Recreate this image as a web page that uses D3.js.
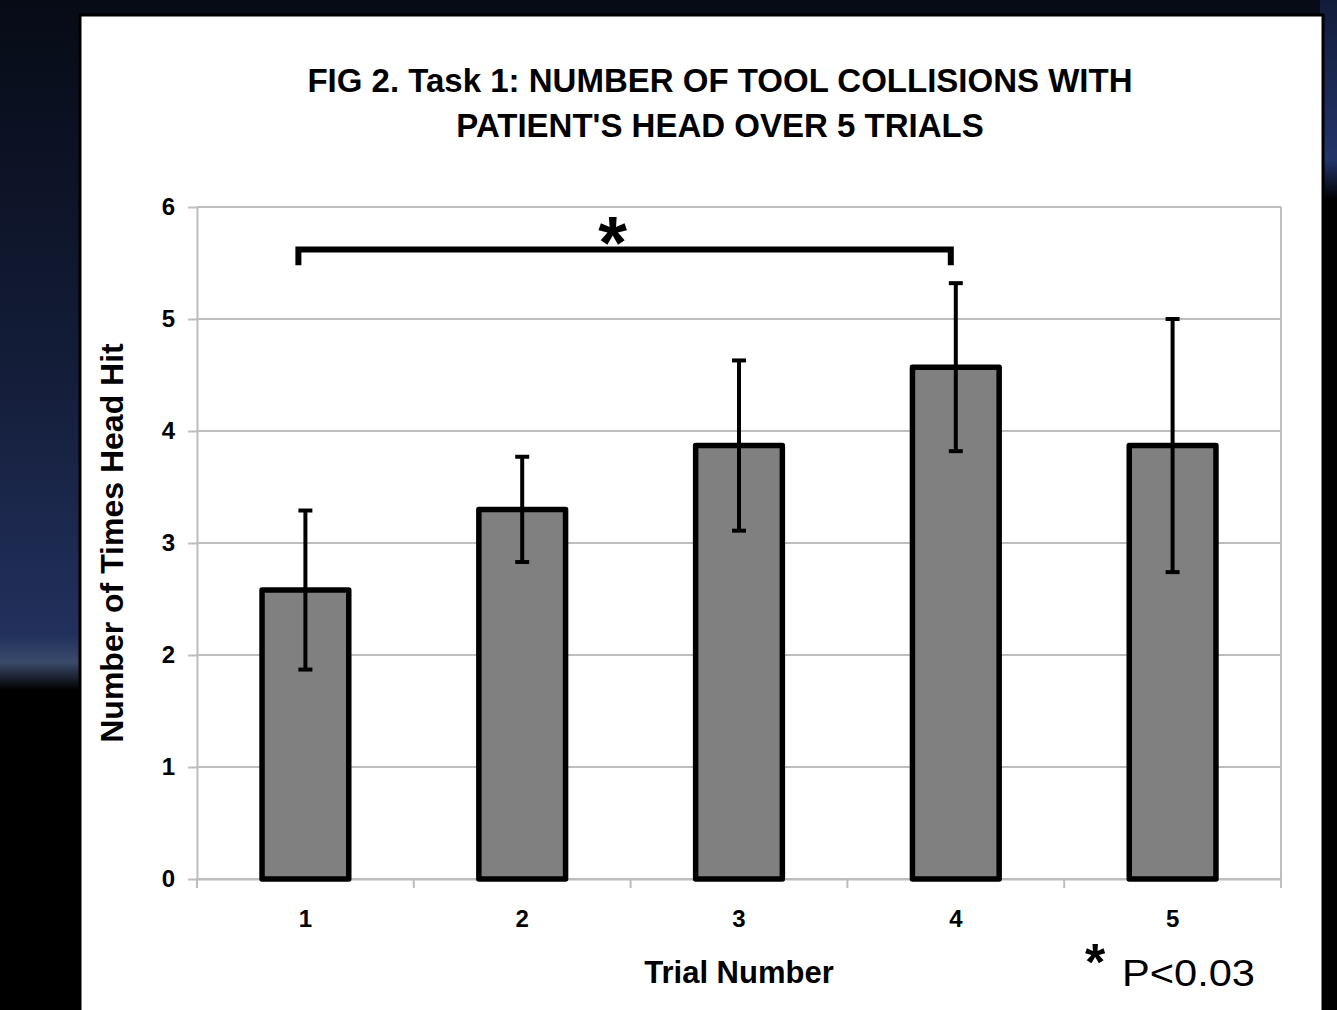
<!DOCTYPE html>
<html>
<head>
<meta charset="utf-8">
<script src="https://cdn.jsdelivr.net/npm/d3@7"></script>
<style>
  body { margin: 0; background: #000; overflow: hidden; }
  svg { display: block; font-family: "Liberation Sans", Arial, sans-serif; }
</style>
</head>
<body>
<svg width="1337" height="1010"></svg>
<script>
// chart data
var trials = ["1", "2", "3", "4", "5"];
var means = [2.58, 3.30, 3.87, 4.57, 3.87];
var errors = [0.71, 0.47, 0.76, 0.75, 1.13];
var yTicks = [0, 1, 2, 3, 4, 5, 6];
var titleLines = ["FIG 2. Task 1: NUMBER OF TOOL COLLISIONS WITH", "PATIENT'S HEAD OVER 5 TRIALS"];
var sigPair = ["1", "4"];
var sigLevels = [5.62, 5.48];   // bracket top, bracket feet
var sigNote = "P<0.03";

var svg = d3.select("svg");

// slide background
var defs = svg.append("defs");
var bg = defs.append("linearGradient")
    .attr("id", "slide").attr("x1", 0).attr("y1", 0).attr("x2", 0).attr("y2", 1);
bg.append("stop").attr("offset", "0%").attr("stop-color", "#070b16");
bg.append("stop").attr("offset", "55%").attr("stop-color", "#141e3a");
bg.append("stop").attr("offset", "92%").attr("stop-color", "#22305c");
bg.append("stop").attr("offset", "96%").attr("stop-color", "#3a4a6a");
bg.append("stop").attr("offset", "100%").attr("stop-color", "#000");

var bgR = defs.append("linearGradient")
    .attr("id", "slideR").attr("x1", 0).attr("y1", 0).attr("x2", 0).attr("y2", 1);
bgR.append("stop").attr("offset", "0%").attr("stop-color", "#121c3a");
bgR.append("stop").attr("offset", "80%").attr("stop-color", "#23346a");
bgR.append("stop").attr("offset", "100%").attr("stop-color", "#000");

svg.append("rect").attr("width", 1337).attr("height", 1010).attr("fill", "#000");
svg.append("rect").attr("width", 1337).attr("height", 690).attr("fill", "url(#slide)");
svg.append("rect").attr("x", 1320).attr("width", 17).attr("height", 200).attr("fill", "url(#slideR)");
svg.append("rect").attr("x", 1320).attr("y", 200).attr("width", 17).attr("height", 810).attr("fill", "#000");

// white chart panel
svg.append("rect")
    .attr("x", 80).attr("y", 15)
    .attr("width", 1243).attr("height", 1000)
    .attr("fill", "#fff")
    .attr("stroke", "#000").attr("stroke-width", 3);

var margin = { top: 207, left: 197 },
    width = 1084,
    height = 672;

var g = svg.append("g")
    .attr("transform", `translate(${margin.left}, ${margin.top})`);

var x = d3.scaleBand()
    .domain(trials)
    .range([0, width])
    .paddingInner(0.6)
    .paddingOuter(0.3);

var y = d3.scaleLinear()
    .domain([0, 6])
    .range([height, 0]);

var grey = "#bdbdbd";

// gridlines
g.append("g").selectAll("line")
    .data(yTicks)
    .enter().append("line")
        .attr("x1", 0).attr("x2", width)
        .attr("y1", d => y(d)).attr("y2", d => y(d))
        .attr("stroke", grey).attr("stroke-width", 2);

// plot area right border
g.append("line")
    .attr("x1", width).attr("x2", width)
    .attr("y1", 0).attr("y2", height)
    .attr("stroke", grey).attr("stroke-width", 2);

// y axis
var yAxis = g.append("g")
    .attr("class", "axis y")
    .call(d3.axisLeft(y).tickValues(yTicks).tickFormat(d3.format("d"))
        .tickSize(9).tickPadding(13).tickSizeOuter(0));
yAxis.selectAll("path, line").attr("stroke", grey).attr("stroke-width", 2);
yAxis.selectAll("text")
    .attr("fill", "#000")
    .attr("font-size", 24)
    .attr("font-weight", "bold")
    .attr("font-family", "Liberation Sans, Arial, sans-serif");

// x axis
var xAxis = g.append("g")
    .attr("class", "axis x")
    .attr("transform", `translate(0, ${height})`)
    .call(d3.axisBottom(x).tickSize(0).tickPadding(31).tickSizeOuter(0));
xAxis.select("path").attr("stroke", grey).attr("stroke-width", 2);
xAxis.selectAll("text")
    .attr("fill", "#000")
    .attr("font-size", 24)
    .attr("font-weight", "bold")
    .attr("font-family", "Liberation Sans, Arial, sans-serif");

// category boundary ticks
xAxis.append("g").selectAll("line")
    .data(d3.range(trials.length + 1))
    .enter().append("line")
        .attr("x1", i => i * x.step()).attr("x2", i => i * x.step())
        .attr("y1", 0).attr("y2", 9)
        .attr("stroke", grey).attr("stroke-width", 2);

// bars
var data = trials.map((t, i) => ({ trial: t, mean: means[i], err: errors[i] }));

g.append("g").selectAll("rect")
    .data(data)
    .enter().append("rect")
        .attr("x", d => x(d.trial))
        .attr("y", d => y(d.mean))
        .attr("width", x.bandwidth())
        .attr("height", d => y(0) - y(d.mean))
        .attr("fill", "#808080")
        .attr("stroke", "#000")
        .attr("stroke-width", 5.5)
        .attr("stroke-linejoin", "round");

// error bars
var eb = g.append("g").selectAll("g")
    .data(data)
    .enter().append("g")
        .attr("transform", d => `translate(${x(d.trial) + x.bandwidth() / 2}, 0)`);

eb.append("line")
    .attr("y1", d => y(d.mean + d.err))
    .attr("y2", d => y(d.mean - d.err))
    .attr("stroke", "#000").attr("stroke-width", 4);

eb.selectAll("line.cap")
    .data(d => [d.mean + d.err, d.mean - d.err])
    .enter().append("line")
        .attr("class", "cap")
        .attr("x1", -7).attr("x2", 7)
        .attr("y1", v => y(v)).attr("y2", v => y(v))
        .attr("stroke", "#000").attr("stroke-width", 4);

// significance bracket
var bx1 = x(sigPair[0]) + x.bandwidth() / 2 - 7,
    bx2 = x(sigPair[1]) + x.bandwidth() / 2 - 5;

g.append("path")
    .attr("d", `M${bx1},${y(sigLevels[1])}V${y(sigLevels[0])}H${bx2}V${y(sigLevels[1])}`)
    .attr("fill", "none")
    .attr("stroke", "#000")
    .attr("stroke-width", 6);

g.append("text")
    .attr("x", (bx1 + bx2) / 2 - 12)
    .attr("y", y(sigLevels[0]) + 18)
    .attr("text-anchor", "middle")
    .attr("font-size", 74)
    .attr("font-weight", "bold")
    .text("*");

// titles
svg.append("g")
    .selectAll("text")
    .data(titleLines)
    .enter().append("text")
        .attr("x", 720)
        .attr("y", (d, i) => 92 + i * 45)
        .attr("text-anchor", "middle")
        .attr("font-size", 33)
        .attr("font-weight", "bold")
        .text(d => d);

svg.append("text")
    .attr("transform", "translate(123, 543) rotate(-90)")
    .attr("text-anchor", "middle")
    .attr("font-size", 32)
    .attr("font-weight", "bold")
    .text("Number of Times Head Hit");

svg.append("text")
    .attr("x", 739)
    .attr("y", 983)
    .attr("text-anchor", "middle")
    .attr("font-size", 31)
    .attr("font-weight", "bold")
    .text("Trial Number");

// significance note
svg.append("text")
    .attr("x", 1095)
    .attr("y", 980)
    .attr("text-anchor", "middle")
    .attr("font-size", 52)
    .attr("font-weight", "bold")
    .text("*");

svg.append("text")
    .attr("x", 1122)
    .attr("y", 986)
    .attr("font-size", 37)
    .attr("textLength", 133)
    .attr("lengthAdjust", "spacingAndGlyphs")
    .text(sigNote);
</script>
</body>
</html>
